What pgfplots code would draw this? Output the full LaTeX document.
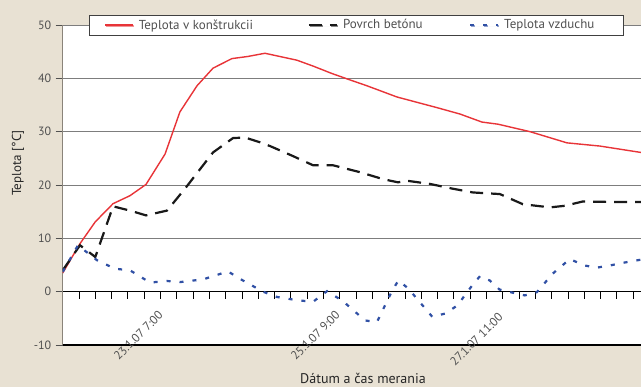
\documentclass[border=0pt]{standalone}
\usepackage{pgfplots}
\pgfplotsset{compat=1.18}
\usepackage{pgfplotstable}
\usepackage{fontspec}
\setmainfont{PT Sans}
\usetikzlibrary{shadows}

\definecolor{bgbeige}{RGB}{232,225,211}
\definecolor{gridgray}{RGB}{125,125,125}
\definecolor{axisgray}{RGB}{138,132,122}
\definecolor{labgray}{RGB}{80,80,80}
\definecolor{redline}{RGB}{232,52,56}
\definecolor{blackline}{RGB}{25,25,25}
\definecolor{blueline}{RGB}{48,80,165}

% x = measurement step (one tick per step), y = temperature in degrees C
\pgfplotstableread{
x y
0 3.5
1.06 9.0
2.0 13.1
3.09 16.5
4.13 18.0
5.11 20.1
6.28 25.8
7.19 33.7
8.24 38.6
9.22 41.9
10.38 43.7
11.36 44.1
12.41 44.7
14.37 43.4
15.36 42.3
16.52 40.9
17.63 39.7
18.67 38.6
20.51 36.5
21.74 35.5
22.97 34.5
24.38 33.3
25.72 31.8
26.71 31.4
28.67 30.0
30.94 27.9
32.96 27.3
35.48 26.1
}\konstrukcia

\pgfplotstableread{
x y
0 4.0
1.06 8.7
2.0 6.5
3.09 16.0
4.13 15.2
5.11 14.3
6.4 15.2
7.5 19.3
9.22 26.1
10.45 28.8
11.19 28.9
12.11 28.0
12.72 27.3
14.07 25.5
15.36 23.7
16.58 23.7
18.24 22.4
19.65 21.1
20.57 20.5
21.12 20.8
22.53 20.2
23.94 19.3
25.17 18.6
26.82 18.3
28.23 16.4
29.9 15.8
30.8 16.1
31.9 16.9
34.2 16.8
35.48 16.8
}\povrch

\pgfplotstableread{
x y
0 3.7
0.94 8.7
2.1 5.9
3.21 4.3
4.13 4.0
5.36 1.7
6.4 2.0
7.2 1.8
8.61 2.3
10.14 3.8
10.88 2.4
12.29 0.0
13.15 -1.0
14.37 -1.6
15.36 -1.9
16.22 0.1
17.2 -1.8
18.55 -5.4
19.28 -5.7
20.23 0.3
20.6 2.1
21.2 0.6
22.67 -4.7
23.47 -4.1
24.21 -2.6
25.13 1.2
25.6 2.9
26.2 2.1
26.8 0.4
27.62 -0.2
28.35 -0.7
29.09 -0.1
30.07 3.4
31.11 6.1
32.03 4.9
32.76 4.5
33.56 4.9
34.36 5.4
35.48 6.0
}\vzduch

\begin{document}
\begin{tikzpicture}
\useasboundingbox (-62.7pt,-42pt) rectangle (578.3pt,345pt);
\fill[bgbeige] (-62.7pt,-42pt) rectangle (578.3pt,345pt);
\begin{axis}[
  at={(0pt,0pt)}, anchor=south west,
  scale only axis,
  width=578.3pt, height=320pt,
  xmin=0, xmax=35.48,
  ymin=-10, ymax=50,
  axis background/.style={fill=white},
  clip mode=individual,
  axis x line=middle,
  axis y line=left,
  axis line style={-},
  x axis line style={black, line width=1.1pt},
  y axis line style={axisgray, line width=1.3pt},
  xtick={1,...,35},
  xticklabels={},
  ytick={-10,0,10,20,30,40,50},
  tick align=outside,
  major tick length=7pt,
  x tick style={black, line width=0.8pt},
  y tick style={labgray, line width=0.8pt},
  ymajorgrids,
  grid style={gridgray, line width=0.8pt},
  /pgf/number format/assume math mode=true,
  yticklabel style={font=\fontsize{12}{14}\selectfont, text=labgray, xshift=-1pt},
  legend columns=3,
  legend image code/.code={\draw[#1] (0pt,0pt) -- (28pt,0pt); \path (31pt,0pt);},
  legend style={
    at={(rel axis cs:0.0455,1)}, anchor=west,
    draw=black!75, line width=0.8pt, fill=white,
    drop shadow={shadow xshift=1.2pt, shadow yshift=-1.2pt, fill=black!30},
    font=\fontsize{13}{15}\selectfont, text=labgray,
    inner xsep=15pt, inner ysep=2.5pt,
    /tikz/every even column/.append style={column sep=0pt},
  },
]
\addplot[redline, line width=1.4pt] table[x=x,y=y] {\konstrukcia};
\addlegendentry{\makebox[167pt][l]{Teplota v konštrukcii}}
\addplot[blackline, line width=2.2pt, dash pattern=on 13pt off 8pt] table[x=x,y=y] {\povrch};
\addlegendentry{\makebox[124pt][l]{Povrch betónu}}
\addplot[blueline, line width=2.2pt, dash pattern=on 4pt off 9pt] table[x=x,y=y] {\vzduch};
\addlegendentry{\makebox[102pt][l]{Teplota vzduchu}}

\draw[black, line width=1.1pt] (rel axis cs:0,0) -- (rel axis cs:1,0);
\end{axis}
% date labels under the zero line, slanted
\begin{scope}[every node/.style={rotate=45, anchor=east, inner sep=0pt, text=labgray, font=\fontsize{12}{14}\selectfont}]
\node at (98.1pt,32.2pt) {23.1.07 7:00};
\node at (275.1pt,32.2pt) {25.1.07 9:00};
\node at (438.1pt,30.2pt) {27.1.07 11:00};
\end{scope}
\node[text=black!85, font=\fontsize{14}{16}\selectfont] at (300.3pt,-33pt) {Dátum a čas merania};
\node[rotate=90, text=black!85, font=\fontsize{13}{15}\selectfont] at (-44.7pt,182pt) {Teplota [°C]};
\end{tikzpicture}
\end{document}
